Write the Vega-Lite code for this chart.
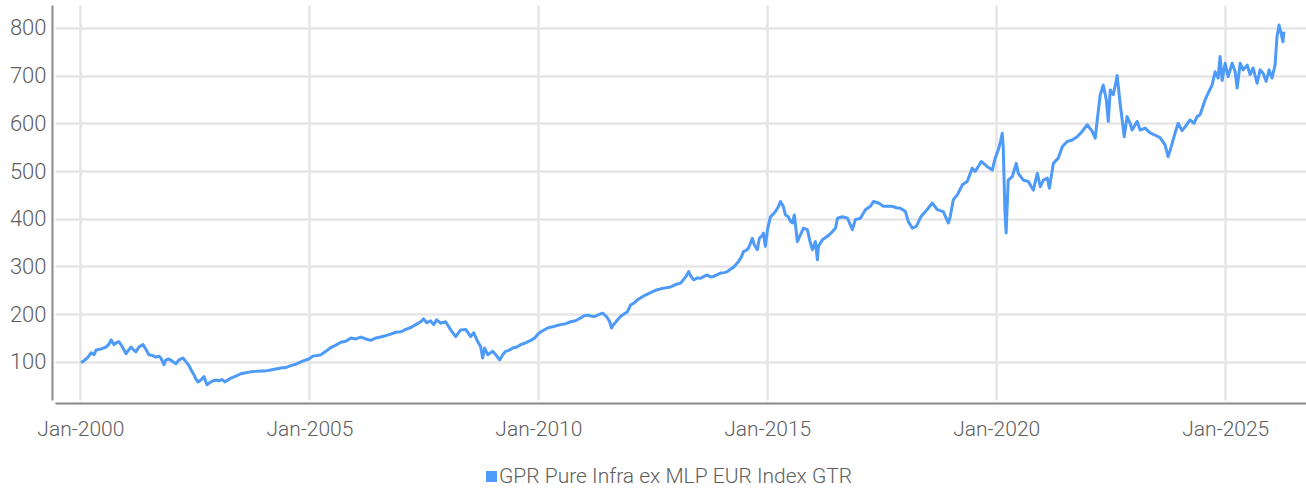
{
  "$schema": "https://vega.github.io/schema/vega-lite/v6.json",
  "width": 1251,
  "height": 395,
  "autosize": {"type": "none"},
  "padding": {"left": 55, "top": 5, "right": 0, "bottom": 91},
  "background": "white",
  "config": {
    "view": {"stroke": null},
    "font": "Roboto"
  },
  "data": {
    "values": [
      {"date": "2000-01-06", "value": 98, "series": "GPR Pure Infra ex MLP EUR Index GTR"},
      {"date": "2000-02-07", "value": 104, "series": "GPR Pure Infra ex MLP EUR Index GTR"},
      {"date": "2000-03-03", "value": 110, "series": "GPR Pure Infra ex MLP EUR Index GTR"},
      {"date": "2000-03-27", "value": 119, "series": "GPR Pure Infra ex MLP EUR Index GTR"},
      {"date": "2000-04-20", "value": 115, "series": "GPR Pure Infra ex MLP EUR Index GTR"},
      {"date": "2000-05-06", "value": 125, "series": "GPR Pure Infra ex MLP EUR Index GTR"},
      {"date": "2000-06-15", "value": 127, "series": "GPR Pure Infra ex MLP EUR Index GTR"},
      {"date": "2000-07-24", "value": 131, "series": "GPR Pure Infra ex MLP EUR Index GTR"},
      {"date": "2000-08-17", "value": 137, "series": "GPR Pure Infra ex MLP EUR Index GTR"},
      {"date": "2000-09-02", "value": 146, "series": "GPR Pure Infra ex MLP EUR Index GTR"},
      {"date": "2000-09-26", "value": 136, "series": "GPR Pure Infra ex MLP EUR Index GTR"},
      {"date": "2000-10-20", "value": 141, "series": "GPR Pure Infra ex MLP EUR Index GTR"},
      {"date": "2000-11-05", "value": 142, "series": "GPR Pure Infra ex MLP EUR Index GTR"},
      {"date": "2000-11-29", "value": 132, "series": "GPR Pure Infra ex MLP EUR Index GTR"},
      {"date": "2000-12-31", "value": 117, "series": "GPR Pure Infra ex MLP EUR Index GTR"},
      {"date": "2001-01-24", "value": 126, "series": "GPR Pure Infra ex MLP EUR Index GTR"},
      {"date": "2001-02-09", "value": 131, "series": "GPR Pure Infra ex MLP EUR Index GTR"},
      {"date": "2001-03-05", "value": 124, "series": "GPR Pure Infra ex MLP EUR Index GTR"},
      {"date": "2001-03-20", "value": 121, "series": "GPR Pure Infra ex MLP EUR Index GTR"},
      {"date": "2001-04-13", "value": 131, "series": "GPR Pure Infra ex MLP EUR Index GTR"},
      {"date": "2001-05-15", "value": 136, "series": "GPR Pure Infra ex MLP EUR Index GTR"},
      {"date": "2001-06-08", "value": 126, "series": "GPR Pure Infra ex MLP EUR Index GTR"},
      {"date": "2001-07-01", "value": 115, "series": "GPR Pure Infra ex MLP EUR Index GTR"},
      {"date": "2001-08-02", "value": 113, "series": "GPR Pure Infra ex MLP EUR Index GTR"},
      {"date": "2001-08-26", "value": 110, "series": "GPR Pure Infra ex MLP EUR Index GTR"},
      {"date": "2001-09-19", "value": 112, "series": "GPR Pure Infra ex MLP EUR Index GTR"},
      {"date": "2001-10-05", "value": 108, "series": "GPR Pure Infra ex MLP EUR Index GTR"},
      {"date": "2001-10-29", "value": 94, "series": "GPR Pure Infra ex MLP EUR Index GTR"},
      {"date": "2001-11-14", "value": 104, "series": "GPR Pure Infra ex MLP EUR Index GTR"},
      {"date": "2001-12-08", "value": 106, "series": "GPR Pure Infra ex MLP EUR Index GTR"},
      {"date": "2002-01-09", "value": 100, "series": "GPR Pure Infra ex MLP EUR Index GTR"},
      {"date": "2002-02-02", "value": 96, "series": "GPR Pure Infra ex MLP EUR Index GTR"},
      {"date": "2002-02-26", "value": 104, "series": "GPR Pure Infra ex MLP EUR Index GTR"},
      {"date": "2002-03-30", "value": 108, "series": "GPR Pure Infra ex MLP EUR Index GTR"},
      {"date": "2002-04-23", "value": 100, "series": "GPR Pure Infra ex MLP EUR Index GTR"},
      {"date": "2002-05-17", "value": 92, "series": "GPR Pure Infra ex MLP EUR Index GTR"},
      {"date": "2002-06-01", "value": 84, "series": "GPR Pure Infra ex MLP EUR Index GTR"},
      {"date": "2002-06-25", "value": 73, "series": "GPR Pure Infra ex MLP EUR Index GTR"},
      {"date": "2002-07-11", "value": 64, "series": "GPR Pure Infra ex MLP EUR Index GTR"},
      {"date": "2002-07-27", "value": 58, "series": "GPR Pure Infra ex MLP EUR Index GTR"},
      {"date": "2002-08-20", "value": 62, "series": "GPR Pure Infra ex MLP EUR Index GTR"},
      {"date": "2002-09-13", "value": 69, "series": "GPR Pure Infra ex MLP EUR Index GTR"},
      {"date": "2002-10-07", "value": 52, "series": "GPR Pure Infra ex MLP EUR Index GTR"},
      {"date": "2002-10-31", "value": 57, "series": "GPR Pure Infra ex MLP EUR Index GTR"},
      {"date": "2002-11-24", "value": 60, "series": "GPR Pure Infra ex MLP EUR Index GTR"},
      {"date": "2002-12-18", "value": 62, "series": "GPR Pure Infra ex MLP EUR Index GTR"},
      {"date": "2003-01-10", "value": 60, "series": "GPR Pure Infra ex MLP EUR Index GTR"},
      {"date": "2003-02-03", "value": 63, "series": "GPR Pure Infra ex MLP EUR Index GTR"},
      {"date": "2003-02-27", "value": 58, "series": "GPR Pure Infra ex MLP EUR Index GTR"},
      {"date": "2003-03-23", "value": 62, "series": "GPR Pure Infra ex MLP EUR Index GTR"},
      {"date": "2003-04-16", "value": 66, "series": "GPR Pure Infra ex MLP EUR Index GTR"},
      {"date": "2003-05-26", "value": 70, "series": "GPR Pure Infra ex MLP EUR Index GTR"},
      {"date": "2003-07-04", "value": 75, "series": "GPR Pure Infra ex MLP EUR Index GTR"},
      {"date": "2003-08-13", "value": 77, "series": "GPR Pure Infra ex MLP EUR Index GTR"},
      {"date": "2003-09-22", "value": 79, "series": "GPR Pure Infra ex MLP EUR Index GTR"},
      {"date": "2003-11-01", "value": 80, "series": "GPR Pure Infra ex MLP EUR Index GTR"},
      {"date": "2003-12-10", "value": 81, "series": "GPR Pure Infra ex MLP EUR Index GTR"},
      {"date": "2004-01-19", "value": 81, "series": "GPR Pure Infra ex MLP EUR Index GTR"},
      {"date": "2004-02-28", "value": 83, "series": "GPR Pure Infra ex MLP EUR Index GTR"},
      {"date": "2004-04-08", "value": 85, "series": "GPR Pure Infra ex MLP EUR Index GTR"},
      {"date": "2004-05-18", "value": 87, "series": "GPR Pure Infra ex MLP EUR Index GTR"},
      {"date": "2004-06-27", "value": 88, "series": "GPR Pure Infra ex MLP EUR Index GTR"},
      {"date": "2004-08-06", "value": 92, "series": "GPR Pure Infra ex MLP EUR Index GTR"},
      {"date": "2004-09-15", "value": 95, "series": "GPR Pure Infra ex MLP EUR Index GTR"},
      {"date": "2004-10-25", "value": 100, "series": "GPR Pure Infra ex MLP EUR Index GTR"},
      {"date": "2004-12-04", "value": 104, "series": "GPR Pure Infra ex MLP EUR Index GTR"},
      {"date": "2004-12-28", "value": 106, "series": "GPR Pure Infra ex MLP EUR Index GTR"},
      {"date": "2005-01-29", "value": 112, "series": "GPR Pure Infra ex MLP EUR Index GTR"},
      {"date": "2005-03-02", "value": 113, "series": "GPR Pure Infra ex MLP EUR Index GTR"},
      {"date": "2005-04-03", "value": 115, "series": "GPR Pure Infra ex MLP EUR Index GTR"},
      {"date": "2005-05-12", "value": 122, "series": "GPR Pure Infra ex MLP EUR Index GTR"},
      {"date": "2005-06-21", "value": 130, "series": "GPR Pure Infra ex MLP EUR Index GTR"},
      {"date": "2005-07-31", "value": 135, "series": "GPR Pure Infra ex MLP EUR Index GTR"},
      {"date": "2005-09-09", "value": 141, "series": "GPR Pure Infra ex MLP EUR Index GTR"},
      {"date": "2005-10-19", "value": 143, "series": "GPR Pure Infra ex MLP EUR Index GTR"},
      {"date": "2005-11-28", "value": 150, "series": "GPR Pure Infra ex MLP EUR Index GTR"},
      {"date": "2006-01-06", "value": 148, "series": "GPR Pure Infra ex MLP EUR Index GTR"},
      {"date": "2006-02-15", "value": 152, "series": "GPR Pure Infra ex MLP EUR Index GTR"},
      {"date": "2006-03-27", "value": 148, "series": "GPR Pure Infra ex MLP EUR Index GTR"},
      {"date": "2006-05-06", "value": 145, "series": "GPR Pure Infra ex MLP EUR Index GTR"},
      {"date": "2006-06-15", "value": 150, "series": "GPR Pure Infra ex MLP EUR Index GTR"},
      {"date": "2006-07-24", "value": 152, "series": "GPR Pure Infra ex MLP EUR Index GTR"},
      {"date": "2006-09-02", "value": 155, "series": "GPR Pure Infra ex MLP EUR Index GTR"},
      {"date": "2006-10-12", "value": 158, "series": "GPR Pure Infra ex MLP EUR Index GTR"},
      {"date": "2006-11-21", "value": 162, "series": "GPR Pure Infra ex MLP EUR Index GTR"},
      {"date": "2006-12-31", "value": 163, "series": "GPR Pure Infra ex MLP EUR Index GTR"},
      {"date": "2007-02-09", "value": 168, "series": "GPR Pure Infra ex MLP EUR Index GTR"},
      {"date": "2007-03-21", "value": 172, "series": "GPR Pure Infra ex MLP EUR Index GTR"},
      {"date": "2007-04-29", "value": 178, "series": "GPR Pure Infra ex MLP EUR Index GTR"},
      {"date": "2007-06-08", "value": 184, "series": "GPR Pure Infra ex MLP EUR Index GTR"},
      {"date": "2007-07-01", "value": 190, "series": "GPR Pure Infra ex MLP EUR Index GTR"},
      {"date": "2007-07-26", "value": 182, "series": "GPR Pure Infra ex MLP EUR Index GTR"},
      {"date": "2007-08-26", "value": 186, "series": "GPR Pure Infra ex MLP EUR Index GTR"},
      {"date": "2007-09-19", "value": 178, "series": "GPR Pure Infra ex MLP EUR Index GTR"},
      {"date": "2007-10-13", "value": 188, "series": "GPR Pure Infra ex MLP EUR Index GTR"},
      {"date": "2007-11-14", "value": 181, "series": "GPR Pure Infra ex MLP EUR Index GTR"},
      {"date": "2007-12-24", "value": 184, "series": "GPR Pure Infra ex MLP EUR Index GTR"},
      {"date": "2008-02-02", "value": 167, "series": "GPR Pure Infra ex MLP EUR Index GTR"},
      {"date": "2008-03-13", "value": 153, "series": "GPR Pure Infra ex MLP EUR Index GTR"},
      {"date": "2008-04-22", "value": 167, "series": "GPR Pure Infra ex MLP EUR Index GTR"},
      {"date": "2008-06-01", "value": 168, "series": "GPR Pure Infra ex MLP EUR Index GTR"},
      {"date": "2008-07-11", "value": 153, "series": "GPR Pure Infra ex MLP EUR Index GTR"},
      {"date": "2008-08-04", "value": 161, "series": "GPR Pure Infra ex MLP EUR Index GTR"},
      {"date": "2008-09-05", "value": 142, "series": "GPR Pure Infra ex MLP EUR Index GTR"},
      {"date": "2008-09-28", "value": 132, "series": "GPR Pure Infra ex MLP EUR Index GTR"},
      {"date": "2008-10-14", "value": 108, "series": "GPR Pure Infra ex MLP EUR Index GTR"},
      {"date": "2008-10-30", "value": 129, "series": "GPR Pure Infra ex MLP EUR Index GTR"},
      {"date": "2008-11-23", "value": 115, "series": "GPR Pure Infra ex MLP EUR Index GTR"},
      {"date": "2009-01-02", "value": 122, "series": "GPR Pure Infra ex MLP EUR Index GTR"},
      {"date": "2009-01-26", "value": 115, "series": "GPR Pure Infra ex MLP EUR Index GTR"},
      {"date": "2009-02-27", "value": 104, "series": "GPR Pure Infra ex MLP EUR Index GTR"},
      {"date": "2009-03-23", "value": 115, "series": "GPR Pure Infra ex MLP EUR Index GTR"},
      {"date": "2009-04-16", "value": 122, "series": "GPR Pure Infra ex MLP EUR Index GTR"},
      {"date": "2009-05-10", "value": 124, "series": "GPR Pure Infra ex MLP EUR Index GTR"},
      {"date": "2009-06-11", "value": 129, "series": "GPR Pure Infra ex MLP EUR Index GTR"},
      {"date": "2009-07-13", "value": 131, "series": "GPR Pure Infra ex MLP EUR Index GTR"},
      {"date": "2009-08-13", "value": 136, "series": "GPR Pure Infra ex MLP EUR Index GTR"},
      {"date": "2009-09-14", "value": 139, "series": "GPR Pure Infra ex MLP EUR Index GTR"},
      {"date": "2009-10-08", "value": 142, "series": "GPR Pure Infra ex MLP EUR Index GTR"},
      {"date": "2009-11-09", "value": 146, "series": "GPR Pure Infra ex MLP EUR Index GTR"},
      {"date": "2009-12-03", "value": 150, "series": "GPR Pure Infra ex MLP EUR Index GTR"},
      {"date": "2010-01-04", "value": 160, "series": "GPR Pure Infra ex MLP EUR Index GTR"},
      {"date": "2010-02-05", "value": 165, "series": "GPR Pure Infra ex MLP EUR Index GTR"},
      {"date": "2010-03-16", "value": 171, "series": "GPR Pure Infra ex MLP EUR Index GTR"},
      {"date": "2010-05-03", "value": 174, "series": "GPR Pure Infra ex MLP EUR Index GTR"},
      {"date": "2010-06-28", "value": 178, "series": "GPR Pure Infra ex MLP EUR Index GTR"},
      {"date": "2010-08-07", "value": 180, "series": "GPR Pure Infra ex MLP EUR Index GTR"},
      {"date": "2010-09-16", "value": 184, "series": "GPR Pure Infra ex MLP EUR Index GTR"},
      {"date": "2010-10-25", "value": 186, "series": "GPR Pure Infra ex MLP EUR Index GTR"},
      {"date": "2010-12-04", "value": 192, "series": "GPR Pure Infra ex MLP EUR Index GTR"},
      {"date": "2010-12-28", "value": 196, "series": "GPR Pure Infra ex MLP EUR Index GTR"},
      {"date": "2011-01-29", "value": 198, "series": "GPR Pure Infra ex MLP EUR Index GTR"},
      {"date": "2011-02-22", "value": 196, "series": "GPR Pure Infra ex MLP EUR Index GTR"},
      {"date": "2011-03-26", "value": 195, "series": "GPR Pure Infra ex MLP EUR Index GTR"},
      {"date": "2011-04-27", "value": 199, "series": "GPR Pure Infra ex MLP EUR Index GTR"},
      {"date": "2011-05-29", "value": 202, "series": "GPR Pure Infra ex MLP EUR Index GTR"},
      {"date": "2011-06-29", "value": 195, "series": "GPR Pure Infra ex MLP EUR Index GTR"},
      {"date": "2011-07-23", "value": 185, "series": "GPR Pure Infra ex MLP EUR Index GTR"},
      {"date": "2011-08-08", "value": 171, "series": "GPR Pure Infra ex MLP EUR Index GTR"},
      {"date": "2011-08-24", "value": 178, "series": "GPR Pure Infra ex MLP EUR Index GTR"},
      {"date": "2011-09-16", "value": 185, "series": "GPR Pure Infra ex MLP EUR Index GTR"},
      {"date": "2011-10-18", "value": 195, "series": "GPR Pure Infra ex MLP EUR Index GTR"},
      {"date": "2011-11-03", "value": 198, "series": "GPR Pure Infra ex MLP EUR Index GTR"},
      {"date": "2011-12-13", "value": 205, "series": "GPR Pure Infra ex MLP EUR Index GTR"},
      {"date": "2012-01-06", "value": 219, "series": "GPR Pure Infra ex MLP EUR Index GTR"},
      {"date": "2012-02-07", "value": 224, "series": "GPR Pure Infra ex MLP EUR Index GTR"},
      {"date": "2012-03-02", "value": 230, "series": "GPR Pure Infra ex MLP EUR Index GTR"},
      {"date": "2012-03-26", "value": 234, "series": "GPR Pure Infra ex MLP EUR Index GTR"},
      {"date": "2012-05-05", "value": 240, "series": "GPR Pure Infra ex MLP EUR Index GTR"},
      {"date": "2012-06-14", "value": 245, "series": "GPR Pure Infra ex MLP EUR Index GTR"},
      {"date": "2012-07-24", "value": 250, "series": "GPR Pure Infra ex MLP EUR Index GTR"},
      {"date": "2012-09-02", "value": 253, "series": "GPR Pure Infra ex MLP EUR Index GTR"},
      {"date": "2012-10-12", "value": 255, "series": "GPR Pure Infra ex MLP EUR Index GTR"},
      {"date": "2012-11-21", "value": 257, "series": "GPR Pure Infra ex MLP EUR Index GTR"},
      {"date": "2012-12-31", "value": 262, "series": "GPR Pure Infra ex MLP EUR Index GTR"},
      {"date": "2013-02-09", "value": 265, "series": "GPR Pure Infra ex MLP EUR Index GTR"},
      {"date": "2013-03-21", "value": 278, "series": "GPR Pure Infra ex MLP EUR Index GTR"},
      {"date": "2013-04-14", "value": 289, "series": "GPR Pure Infra ex MLP EUR Index GTR"},
      {"date": "2013-04-30", "value": 280, "series": "GPR Pure Infra ex MLP EUR Index GTR"},
      {"date": "2013-05-24", "value": 272, "series": "GPR Pure Infra ex MLP EUR Index GTR"},
      {"date": "2013-06-24", "value": 276, "series": "GPR Pure Infra ex MLP EUR Index GTR"},
      {"date": "2013-07-18", "value": 275, "series": "GPR Pure Infra ex MLP EUR Index GTR"},
      {"date": "2013-08-19", "value": 280, "series": "GPR Pure Infra ex MLP EUR Index GTR"},
      {"date": "2013-09-11", "value": 282, "series": "GPR Pure Infra ex MLP EUR Index GTR"},
      {"date": "2013-10-05", "value": 278, "series": "GPR Pure Infra ex MLP EUR Index GTR"},
      {"date": "2013-10-29", "value": 279, "series": "GPR Pure Infra ex MLP EUR Index GTR"},
      {"date": "2013-11-30", "value": 283, "series": "GPR Pure Infra ex MLP EUR Index GTR"},
      {"date": "2013-12-24", "value": 286, "series": "GPR Pure Infra ex MLP EUR Index GTR"},
      {"date": "2014-01-24", "value": 287, "series": "GPR Pure Infra ex MLP EUR Index GTR"},
      {"date": "2014-02-17", "value": 289, "series": "GPR Pure Infra ex MLP EUR Index GTR"},
      {"date": "2014-03-13", "value": 294, "series": "GPR Pure Infra ex MLP EUR Index GTR"},
      {"date": "2014-04-06", "value": 298, "series": "GPR Pure Infra ex MLP EUR Index GTR"},
      {"date": "2014-04-30", "value": 305, "series": "GPR Pure Infra ex MLP EUR Index GTR"},
      {"date": "2014-05-16", "value": 310, "series": "GPR Pure Infra ex MLP EUR Index GTR"},
      {"date": "2014-06-09", "value": 320, "series": "GPR Pure Infra ex MLP EUR Index GTR"},
      {"date": "2014-06-25", "value": 331, "series": "GPR Pure Infra ex MLP EUR Index GTR"},
      {"date": "2014-07-19", "value": 334, "series": "GPR Pure Infra ex MLP EUR Index GTR"},
      {"date": "2014-08-04", "value": 338, "series": "GPR Pure Infra ex MLP EUR Index GTR"},
      {"date": "2014-08-19", "value": 348, "series": "GPR Pure Infra ex MLP EUR Index GTR"},
      {"date": "2014-09-04", "value": 359, "series": "GPR Pure Infra ex MLP EUR Index GTR"},
      {"date": "2014-09-20", "value": 345, "series": "GPR Pure Infra ex MLP EUR Index GTR"},
      {"date": "2014-10-14", "value": 335, "series": "GPR Pure Infra ex MLP EUR Index GTR"},
      {"date": "2014-10-30", "value": 359, "series": "GPR Pure Infra ex MLP EUR Index GTR"},
      {"date": "2014-11-23", "value": 365, "series": "GPR Pure Infra ex MLP EUR Index GTR"},
      {"date": "2014-12-01", "value": 370, "series": "GPR Pure Infra ex MLP EUR Index GTR"},
      {"date": "2014-12-17", "value": 342, "series": "GPR Pure Infra ex MLP EUR Index GTR"},
      {"date": "2015-01-03", "value": 377, "series": "GPR Pure Infra ex MLP EUR Index GTR"},
      {"date": "2015-01-26", "value": 404, "series": "GPR Pure Infra ex MLP EUR Index GTR"},
      {"date": "2015-02-19", "value": 410, "series": "GPR Pure Infra ex MLP EUR Index GTR"},
      {"date": "2015-03-07", "value": 415, "series": "GPR Pure Infra ex MLP EUR Index GTR"},
      {"date": "2015-03-31", "value": 425, "series": "GPR Pure Infra ex MLP EUR Index GTR"},
      {"date": "2015-04-16", "value": 436, "series": "GPR Pure Infra ex MLP EUR Index GTR"},
      {"date": "2015-05-10", "value": 425, "series": "GPR Pure Infra ex MLP EUR Index GTR"},
      {"date": "2015-05-26", "value": 408, "series": "GPR Pure Infra ex MLP EUR Index GTR"},
      {"date": "2015-06-18", "value": 404, "series": "GPR Pure Infra ex MLP EUR Index GTR"},
      {"date": "2015-07-04", "value": 395, "series": "GPR Pure Infra ex MLP EUR Index GTR"},
      {"date": "2015-07-20", "value": 391, "series": "GPR Pure Infra ex MLP EUR Index GTR"},
      {"date": "2015-08-05", "value": 408, "series": "GPR Pure Infra ex MLP EUR Index GTR"},
      {"date": "2015-08-29", "value": 352, "series": "GPR Pure Infra ex MLP EUR Index GTR"},
      {"date": "2015-09-22", "value": 366, "series": "GPR Pure Infra ex MLP EUR Index GTR"},
      {"date": "2015-10-16", "value": 380, "series": "GPR Pure Infra ex MLP EUR Index GTR"},
      {"date": "2015-11-17", "value": 377, "series": "GPR Pure Infra ex MLP EUR Index GTR"},
      {"date": "2015-12-11", "value": 349, "series": "GPR Pure Infra ex MLP EUR Index GTR"},
      {"date": "2015-12-27", "value": 335, "series": "GPR Pure Infra ex MLP EUR Index GTR"},
      {"date": "2016-01-20", "value": 352, "series": "GPR Pure Infra ex MLP EUR Index GTR"},
      {"date": "2016-02-05", "value": 314, "series": "GPR Pure Infra ex MLP EUR Index GTR"},
      {"date": "2016-02-13", "value": 342, "series": "GPR Pure Infra ex MLP EUR Index GTR"},
      {"date": "2016-03-16", "value": 356, "series": "GPR Pure Infra ex MLP EUR Index GTR"},
      {"date": "2016-04-25", "value": 363, "series": "GPR Pure Infra ex MLP EUR Index GTR"},
      {"date": "2016-06-04", "value": 373, "series": "GPR Pure Infra ex MLP EUR Index GTR"},
      {"date": "2016-06-28", "value": 380, "series": "GPR Pure Infra ex MLP EUR Index GTR"},
      {"date": "2016-07-14", "value": 401, "series": "GPR Pure Infra ex MLP EUR Index GTR"},
      {"date": "2016-08-23", "value": 404, "series": "GPR Pure Infra ex MLP EUR Index GTR"},
      {"date": "2016-10-02", "value": 401, "series": "GPR Pure Infra ex MLP EUR Index GTR"},
      {"date": "2016-11-10", "value": 377, "series": "GPR Pure Infra ex MLP EUR Index GTR"},
      {"date": "2016-12-04", "value": 398, "series": "GPR Pure Infra ex MLP EUR Index GTR"},
      {"date": "2017-01-13", "value": 401, "series": "GPR Pure Infra ex MLP EUR Index GTR"},
      {"date": "2017-02-22", "value": 419, "series": "GPR Pure Infra ex MLP EUR Index GTR"},
      {"date": "2017-04-03", "value": 426, "series": "GPR Pure Infra ex MLP EUR Index GTR"},
      {"date": "2017-04-27", "value": 436, "series": "GPR Pure Infra ex MLP EUR Index GTR"},
      {"date": "2017-06-06", "value": 433, "series": "GPR Pure Infra ex MLP EUR Index GTR"},
      {"date": "2017-07-15", "value": 426, "series": "GPR Pure Infra ex MLP EUR Index GTR"},
      {"date": "2017-08-24", "value": 426, "series": "GPR Pure Infra ex MLP EUR Index GTR"},
      {"date": "2017-09-25", "value": 426, "series": "GPR Pure Infra ex MLP EUR Index GTR"},
      {"date": "2017-10-27", "value": 423, "series": "GPR Pure Infra ex MLP EUR Index GTR"},
      {"date": "2017-11-28", "value": 422, "series": "GPR Pure Infra ex MLP EUR Index GTR"},
      {"date": "2018-01-07", "value": 415, "series": "GPR Pure Infra ex MLP EUR Index GTR"},
      {"date": "2018-01-30", "value": 394, "series": "GPR Pure Infra ex MLP EUR Index GTR"},
      {"date": "2018-03-03", "value": 380, "series": "GPR Pure Infra ex MLP EUR Index GTR"},
      {"date": "2018-04-04", "value": 384, "series": "GPR Pure Infra ex MLP EUR Index GTR"},
      {"date": "2018-05-10", "value": 404, "series": "GPR Pure Infra ex MLP EUR Index GTR"},
      {"date": "2018-07-08", "value": 422, "series": "GPR Pure Infra ex MLP EUR Index GTR"},
      {"date": "2018-08-09", "value": 433, "series": "GPR Pure Infra ex MLP EUR Index GTR"},
      {"date": "2018-09-18", "value": 419, "series": "GPR Pure Infra ex MLP EUR Index GTR"},
      {"date": "2018-11-05", "value": 415, "series": "GPR Pure Infra ex MLP EUR Index GTR"},
      {"date": "2018-12-15", "value": 391, "series": "GPR Pure Infra ex MLP EUR Index GTR"},
      {"date": "2018-12-31", "value": 405, "series": "GPR Pure Infra ex MLP EUR Index GTR"},
      {"date": "2019-01-24", "value": 440, "series": "GPR Pure Infra ex MLP EUR Index GTR"},
      {"date": "2019-02-25", "value": 450, "series": "GPR Pure Infra ex MLP EUR Index GTR"},
      {"date": "2019-04-06", "value": 471, "series": "GPR Pure Infra ex MLP EUR Index GTR"},
      {"date": "2019-05-15", "value": 478, "series": "GPR Pure Infra ex MLP EUR Index GTR"},
      {"date": "2019-06-24", "value": 506, "series": "GPR Pure Infra ex MLP EUR Index GTR"},
      {"date": "2019-07-18", "value": 499, "series": "GPR Pure Infra ex MLP EUR Index GTR"},
      {"date": "2019-09-04", "value": 520, "series": "GPR Pure Infra ex MLP EUR Index GTR"},
      {"date": "2019-10-22", "value": 509, "series": "GPR Pure Infra ex MLP EUR Index GTR"},
      {"date": "2019-12-01", "value": 502, "series": "GPR Pure Infra ex MLP EUR Index GTR"},
      {"date": "2019-12-24", "value": 527, "series": "GPR Pure Infra ex MLP EUR Index GTR"},
      {"date": "2020-01-17", "value": 544, "series": "GPR Pure Infra ex MLP EUR Index GTR"},
      {"date": "2020-02-08", "value": 565, "series": "GPR Pure Infra ex MLP EUR Index GTR"},
      {"date": "2020-02-18", "value": 579, "series": "GPR Pure Infra ex MLP EUR Index GTR"},
      {"date": "2020-02-26", "value": 551, "series": "GPR Pure Infra ex MLP EUR Index GTR"},
      {"date": "2020-03-10", "value": 419, "series": "GPR Pure Infra ex MLP EUR Index GTR"},
      {"date": "2020-03-20", "value": 370, "series": "GPR Pure Infra ex MLP EUR Index GTR"},
      {"date": "2020-04-06", "value": 481, "series": "GPR Pure Infra ex MLP EUR Index GTR"},
      {"date": "2020-05-08", "value": 488, "series": "GPR Pure Infra ex MLP EUR Index GTR"},
      {"date": "2020-06-09", "value": 516, "series": "GPR Pure Infra ex MLP EUR Index GTR"},
      {"date": "2020-06-25", "value": 495, "series": "GPR Pure Infra ex MLP EUR Index GTR"},
      {"date": "2020-08-04", "value": 481, "series": "GPR Pure Infra ex MLP EUR Index GTR"},
      {"date": "2020-09-13", "value": 478, "series": "GPR Pure Infra ex MLP EUR Index GTR"},
      {"date": "2020-10-23", "value": 460, "series": "GPR Pure Infra ex MLP EUR Index GTR"},
      {"date": "2020-11-24", "value": 495, "series": "GPR Pure Infra ex MLP EUR Index GTR"},
      {"date": "2020-12-18", "value": 467, "series": "GPR Pure Infra ex MLP EUR Index GTR"},
      {"date": "2021-01-11", "value": 481, "series": "GPR Pure Infra ex MLP EUR Index GTR"},
      {"date": "2021-02-12", "value": 485, "series": "GPR Pure Infra ex MLP EUR Index GTR"},
      {"date": "2021-02-28", "value": 464, "series": "GPR Pure Infra ex MLP EUR Index GTR"},
      {"date": "2021-04-01", "value": 516, "series": "GPR Pure Infra ex MLP EUR Index GTR"},
      {"date": "2021-05-10", "value": 527, "series": "GPR Pure Infra ex MLP EUR Index GTR"},
      {"date": "2021-06-11", "value": 551, "series": "GPR Pure Infra ex MLP EUR Index GTR"},
      {"date": "2021-07-20", "value": 562, "series": "GPR Pure Infra ex MLP EUR Index GTR"},
      {"date": "2021-08-29", "value": 565, "series": "GPR Pure Infra ex MLP EUR Index GTR"},
      {"date": "2021-10-08", "value": 572, "series": "GPR Pure Infra ex MLP EUR Index GTR"},
      {"date": "2021-11-17", "value": 583, "series": "GPR Pure Infra ex MLP EUR Index GTR"},
      {"date": "2021-12-27", "value": 597, "series": "GPR Pure Infra ex MLP EUR Index GTR"},
      {"date": "2022-02-05", "value": 583, "series": "GPR Pure Infra ex MLP EUR Index GTR"},
      {"date": "2022-03-01", "value": 569, "series": "GPR Pure Infra ex MLP EUR Index GTR"},
      {"date": "2022-03-17", "value": 607, "series": "GPR Pure Infra ex MLP EUR Index GTR"},
      {"date": "2022-04-10", "value": 660, "series": "GPR Pure Infra ex MLP EUR Index GTR"},
      {"date": "2022-05-04", "value": 680, "series": "GPR Pure Infra ex MLP EUR Index GTR"},
      {"date": "2022-05-28", "value": 650, "series": "GPR Pure Infra ex MLP EUR Index GTR"},
      {"date": "2022-06-13", "value": 604, "series": "GPR Pure Infra ex MLP EUR Index GTR"},
      {"date": "2022-06-29", "value": 670, "series": "GPR Pure Infra ex MLP EUR Index GTR"},
      {"date": "2022-07-23", "value": 660, "series": "GPR Pure Infra ex MLP EUR Index GTR"},
      {"date": "2022-08-23", "value": 700, "series": "GPR Pure Infra ex MLP EUR Index GTR"},
      {"date": "2022-09-16", "value": 640, "series": "GPR Pure Infra ex MLP EUR Index GTR"},
      {"date": "2022-10-02", "value": 607, "series": "GPR Pure Infra ex MLP EUR Index GTR"},
      {"date": "2022-10-18", "value": 572, "series": "GPR Pure Infra ex MLP EUR Index GTR"},
      {"date": "2022-11-10", "value": 614, "series": "GPR Pure Infra ex MLP EUR Index GTR"},
      {"date": "2022-12-04", "value": 600, "series": "GPR Pure Infra ex MLP EUR Index GTR"},
      {"date": "2022-12-20", "value": 586, "series": "GPR Pure Infra ex MLP EUR Index GTR"},
      {"date": "2023-01-29", "value": 604, "series": "GPR Pure Infra ex MLP EUR Index GTR"},
      {"date": "2023-02-22", "value": 586, "series": "GPR Pure Infra ex MLP EUR Index GTR"},
      {"date": "2023-04-03", "value": 590, "series": "GPR Pure Infra ex MLP EUR Index GTR"},
      {"date": "2023-05-13", "value": 580, "series": "GPR Pure Infra ex MLP EUR Index GTR"},
      {"date": "2023-06-22", "value": 575, "series": "GPR Pure Infra ex MLP EUR Index GTR"},
      {"date": "2023-07-31", "value": 570, "series": "GPR Pure Infra ex MLP EUR Index GTR"},
      {"date": "2023-09-09", "value": 555, "series": "GPR Pure Infra ex MLP EUR Index GTR"},
      {"date": "2023-10-03", "value": 530, "series": "GPR Pure Infra ex MLP EUR Index GTR"},
      {"date": "2023-10-27", "value": 550, "series": "GPR Pure Infra ex MLP EUR Index GTR"},
      {"date": "2023-11-28", "value": 580, "series": "GPR Pure Infra ex MLP EUR Index GTR"},
      {"date": "2023-12-22", "value": 600, "series": "GPR Pure Infra ex MLP EUR Index GTR"},
      {"date": "2024-01-22", "value": 585, "series": "GPR Pure Infra ex MLP EUR Index GTR"},
      {"date": "2024-02-23", "value": 595, "series": "GPR Pure Infra ex MLP EUR Index GTR"},
      {"date": "2024-03-26", "value": 607, "series": "GPR Pure Infra ex MLP EUR Index GTR"},
      {"date": "2024-04-27", "value": 600, "series": "GPR Pure Infra ex MLP EUR Index GTR"},
      {"date": "2024-05-21", "value": 614, "series": "GPR Pure Infra ex MLP EUR Index GTR"},
      {"date": "2024-06-14", "value": 618, "series": "GPR Pure Infra ex MLP EUR Index GTR"},
      {"date": "2024-07-24", "value": 649, "series": "GPR Pure Infra ex MLP EUR Index GTR"},
      {"date": "2024-08-17", "value": 663, "series": "GPR Pure Infra ex MLP EUR Index GTR"},
      {"date": "2024-09-18", "value": 680, "series": "GPR Pure Infra ex MLP EUR Index GTR"},
      {"date": "2024-10-12", "value": 708, "series": "GPR Pure Infra ex MLP EUR Index GTR"},
      {"date": "2024-11-05", "value": 695, "series": "GPR Pure Infra ex MLP EUR Index GTR"},
      {"date": "2024-11-21", "value": 740, "series": "GPR Pure Infra ex MLP EUR Index GTR"},
      {"date": "2024-12-07", "value": 690, "series": "GPR Pure Infra ex MLP EUR Index GTR"},
      {"date": "2024-12-31", "value": 726, "series": "GPR Pure Infra ex MLP EUR Index GTR"},
      {"date": "2025-01-24", "value": 698, "series": "GPR Pure Infra ex MLP EUR Index GTR"},
      {"date": "2025-02-25", "value": 726, "series": "GPR Pure Infra ex MLP EUR Index GTR"},
      {"date": "2025-03-21", "value": 708, "series": "GPR Pure Infra ex MLP EUR Index GTR"},
      {"date": "2025-04-06", "value": 674, "series": "GPR Pure Infra ex MLP EUR Index GTR"},
      {"date": "2025-04-30", "value": 726, "series": "GPR Pure Infra ex MLP EUR Index GTR"},
      {"date": "2025-05-24", "value": 712, "series": "GPR Pure Infra ex MLP EUR Index GTR"},
      {"date": "2025-06-25", "value": 722, "series": "GPR Pure Infra ex MLP EUR Index GTR"},
      {"date": "2025-07-18", "value": 702, "series": "GPR Pure Infra ex MLP EUR Index GTR"},
      {"date": "2025-08-11", "value": 716, "series": "GPR Pure Infra ex MLP EUR Index GTR"},
      {"date": "2025-09-12", "value": 684, "series": "GPR Pure Infra ex MLP EUR Index GTR"},
      {"date": "2025-10-06", "value": 712, "series": "GPR Pure Infra ex MLP EUR Index GTR"},
      {"date": "2025-10-30", "value": 705, "series": "GPR Pure Infra ex MLP EUR Index GTR"},
      {"date": "2025-11-23", "value": 688, "series": "GPR Pure Infra ex MLP EUR Index GTR"},
      {"date": "2025-12-17", "value": 712, "series": "GPR Pure Infra ex MLP EUR Index GTR"},
      {"date": "2026-01-09", "value": 695, "series": "GPR Pure Infra ex MLP EUR Index GTR"},
      {"date": "2026-02-02", "value": 722, "series": "GPR Pure Infra ex MLP EUR Index GTR"},
      {"date": "2026-02-18", "value": 782, "series": "GPR Pure Infra ex MLP EUR Index GTR"},
      {"date": "2026-03-06", "value": 806, "series": "GPR Pure Infra ex MLP EUR Index GTR"},
      {"date": "2026-03-22", "value": 789, "series": "GPR Pure Infra ex MLP EUR Index GTR"},
      {"date": "2026-04-06", "value": 771, "series": "GPR Pure Infra ex MLP EUR Index GTR"},
      {"date": "2026-04-14", "value": 792, "series": "GPR Pure Infra ex MLP EUR Index GTR"}
    ]
  },
  "mark": {"type": "line", "strokeWidth": 3, "interpolate": "linear", "strokeJoin": "round"},
  "encoding": {
    "x": {
      "field": "date",
      "type": "temporal",
      "scale": {"domain": ["1999-06-13", "2026-10-07"], "nice": false},
      "axis": {
        "title": null,
        "format": "%b-%Y",
        "values": [
          {"year": 2000, "month": 1, "date": 1},
          {"year": 2005, "month": 1, "date": 1},
          {"year": 2010, "month": 1, "date": 1},
          {"year": 2015, "month": 1, "date": 1},
          {"year": 2020, "month": 1, "date": 1},
          {"year": 2025, "month": 1, "date": 1}
        ],
        "offset": 3,
        "ticks": false,
        "tickSize": 0,
        "labelPadding": 15,
        "labelFontSize": 21,
        "labelFontWeight": 300,
        "labelColor": "#5e5e5e",
        "labelFont": "Roboto",
        "labelFlush": false,
        "domainColor": "#8a8a8a",
        "domainWidth": 2,
        "gridColor": "#e6e6e6",
        "gridWidth": 2.5
      }
    },
    "y": {
      "field": "value",
      "type": "quantitative",
      "scale": {"domain": [20, 848], "nice": false, "zero": false},
      "axis": {
        "title": null,
        "values": [100, 200, 300, 400, 500, 600, 700, 800],
        "offset": 3,
        "ticks": false,
        "tickSize": 0,
        "labelPadding": 6,
        "labelFontSize": 22,
        "labelFontWeight": 300,
        "labelColor": "#5e5e5e",
        "labelFont": "Roboto",
        "domainColor": "#8a8a8a",
        "domainWidth": 2,
        "gridColor": "#e6e6e6",
        "gridWidth": 2.5
      }
    },
    "color": {
      "field": "series",
      "type": "nominal",
      "scale": {"range": ["#4d9af8"]},
      "legend": {
        "title": null,
        "orient": "none",
        "legendX": 426,
        "legendY": 461,
        "symbolType": "square",
        "symbolSize": 121,
        "symbolStrokeWidth": 0,
        "symbolFillColor": "#4d9af8",
        "labelFontSize": 21,
        "labelFontWeight": 300,
        "labelColor": "#5e5e5e",
        "labelFont": "Roboto",
        "labelOffset": -3,
        "labelLimit": 600
      }
    }
  }
}
